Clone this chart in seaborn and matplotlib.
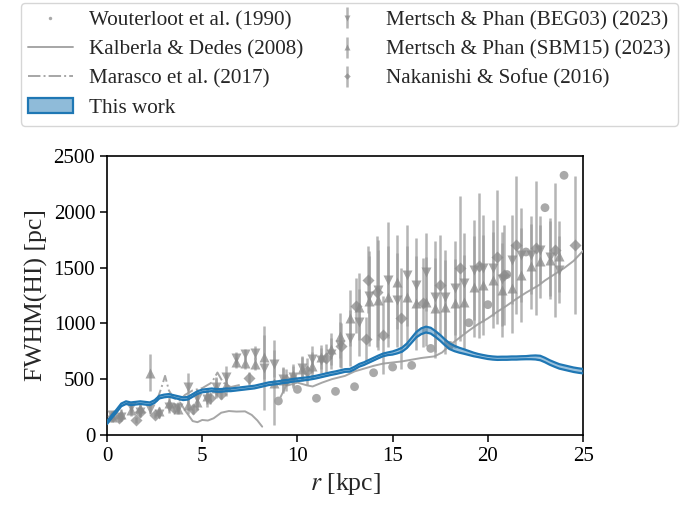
import numpy as np
import matplotlib
matplotlib.use("Agg")
import matplotlib.pyplot as plt
from matplotlib.patches import Patch
from matplotlib.lines import Line2D
import seaborn as sns

# ---------------- data ----------------
# Wouterloot et al. (1990)
r_wout = [9, 10, 11, 12, 13, 14, 15, 16, 17, 18, 19, 20, 21, 22, 23, 24]
fwhm_wout = [305, 409, 329, 391, 433, 558, 609, 624, 776, 803, 1006, 1168, 1438, 1640, 2037, 2327]

# Kalberla & Dedes (2008), inner and outer branches
r_kd_in = [3.85, 4.1, 4.5, 4.75, 5.0, 5.3, 5.6, 6.0, 6.4, 6.8, 7.25, 7.6, 7.9, 8.15]
fwhm_kd_in = [290, 220, 125, 115, 135, 130, 150, 200, 215, 210, 212, 180, 130, 75]
r_kd_out = [9.0, 9.4, 10.0, 10.5, 10.8, 11.3, 11.8, 12.5, 13.0, 13.5, 14.0, 14.5, 15.0,
            15.5, 16.0, 16.5, 17.2, 17.6, 18.0, 18.5, 19.0, 19.5, 20.0, 20.5, 21.0,
            21.5, 22.0, 22.5, 22.7, 23.0, 23.5, 24.0, 24.5, 25.0]
fwhm_kd_out = [300, 440, 470, 445, 435, 470, 500, 530, 570, 595, 620, 640, 650,
               660, 675, 690, 705, 740, 805, 870, 935, 995, 1045, 1105, 1160,
               1220, 1275, 1325, 1345, 1385, 1440, 1495, 1560, 1650]

# Marasco et al. (2017)
r_mar = [2.6, 2.85, 3.05, 3.25, 3.5, 3.8, 4.1, 4.5, 5.0, 5.5, 5.8, 6.1, 6.5, 7.0]
fwhm_mar = [300, 420, 530, 400, 330, 310, 360, 400, 420, 470, 560, 470, 430, 450]

# Mertsch & Phan (2023)
r_mp = [0.25, 0.75, 1.25, 1.75, 2.25, 2.75, 3.25, 3.75, 4.25, 4.75, 5.25, 5.75,
        6.25, 6.75, 7.25, 7.75, 8.25, 8.75, 9.25, 9.75, 10.25, 10.75, 11.25, 11.75,
        12.25, 12.75, 13.25, 13.75, 14.25, 14.75, 15.25, 15.75, 16.25, 16.75, 17.25, 17.75,
        18.25, 18.75, 19.25, 19.75, 20.25, 20.75, 21.25, 21.75, 22.25, 22.75, 23.25, 23.75]
fwhm_beg03 = [175, 165, 250, 205, 235, 190, 250, 245, 430, 330, 320, 430,
              520, 690, 725, 735, 600, 640, 500, 520, 600, 680, 670, 730,
              810, 870, 1010, 1250, 1300, 1390, 1210, 1430, 1345, 1460, 1240, 1240,
              1320, 1360, 1480, 1495, 1500, 1395, 1570, 1615, 1615, 1660, 1595, 1480]
err_beg03 = [40, 40, 50, 40, 50, 40, 50, 50, 130, 80, 70, 90,
             100, 50, 50, 60, 380, 120, 110, 100, 110, 120, 110, 140,
             200, 250, 300, 400, 450, 520, 420, 450, 420, 350, 500, 420,
             420, 450, 450, 480, 430, 420, 400, 420, 350, 300, 350, 300]
fwhm_sbm15 = [160, 190, 220, 240, 560, 215, 290, 235, 270, 300, 350, 420,
              450, 650, 645, 640, 700, 470, 490, 540, 590, 620, 700, 770,
              890, 1045, 1150, 1200, 1210, 1240, 1370, 1240, 1180, 1195, 1140, 1150,
              1180, 1195, 1330, 1345, 1390, 1300, 1315, 1435, 1510, 1555, 1570, 1600]
err_sbm15 = [40, 40, 50, 40, 165, 40, 50, 50, 80, 80, 70, 90,
             100, 50, 50, 60, 200, 380, 110, 100, 110, 120, 110, 140,
             200, 250, 300, 400, 450, 450, 420, 450, 420, 400, 450, 420,
             400, 420, 450, 450, 430, 420, 400, 420, 380, 330, 350, 320]

# Nakanishi & Sofue (2016)
r_ns = [0.3, 0.65, 1.5, 1.75, 2.5, 3.5, 4.5, 5.4, 6.0, 7.45, 9.4, 10.5, 11.5, 12.3,
        13.1, 13.6, 13.7, 14.2, 14.5, 15.45, 16.6, 17.5, 18.55, 19.55, 20.5, 20.85,
        21.5, 22.55, 23.5, 24.55]
fwhm_ns = [170, 150, 134, 209, 179, 240, 230, 330, 370, 508, 490, 570, 690, 800,
           1160, 860, 1390, 1285, 895, 1045, 1185, 1345, 1495, 1515, 1595, 1435,
           1700, 1675, 1660, 1700]
err_ns = [30, 30, 30, 30, 30, 30, 40, 50, 50, 60, 100, 120, 130, 200,
          250, 200, 300, 500, 350, 450, 400, 450, 650, 650, 600, 450,
          620, 600, 600, 620]

# This work: median profile and half-width of the band
r_tw = np.arange(0, 25.01, 0.25)
fwhm_tw = [110, 165, 215, 270, 290, 280, 285, 290, 285, 280, 300, 340, 350, 355, 345,
           335, 325, 330, 355, 380, 395, 400, 405, 400, 400, 405, 405, 410, 415, 420,
           425, 430, 440, 450, 460, 465, 470, 478, 482, 490, 495, 500, 505, 512, 520,
           530, 540, 550, 558, 568, 578, 580, 600, 625, 640, 660, 680, 700, 718, 728,
           735, 748, 765, 800, 850, 900, 930, 945, 935, 905, 870, 830, 795, 775, 760,
           748, 735, 722, 712, 703, 695, 690, 687, 688, 688, 690, 690, 692, 693, 695,
           695, 690, 672, 650, 632, 615, 605, 595, 585, 578, 572]
hw_tw = [12] * 60 + [14, 16, 18, 20, 22, 24, 26, 26, 26, 26, 26, 26, 26, 24, 22,
                     20, 18, 16, 14, 14, 14, 14, 14, 14, 14, 14, 14, 14, 14, 16,
                     18, 20, 20, 20, 20, 20, 20, 20, 20, 20, 20]

# ---------------- style ----------------
sns.set_theme(style="ticks")
plt.rcParams["font.family"] = ["Liberation Serif", "DejaVu Serif"]
plt.rcParams["mathtext.fontset"] = "stix"
plt.rcParams["axes.edgecolor"] = "black"
plt.rcParams["axes.linewidth"] = 1.2
plt.rcParams["xtick.color"] = "black"
plt.rcParams["ytick.color"] = "black"
plt.rcParams["xtick.major.width"] = 1.1
plt.rcParams["ytick.major.width"] = 1.1

fig = plt.figure(figsize=(6.92, 5.13), dpi=100)
ax = fig.add_axes([0.1546, 0.152, 0.688, 0.5439])

grey_mk = "#8a8a8a"
grey_eb = "#9c9c9c"
grey_ln = "#a6a6a6"
blue = "#1f77b4"

# This work
lo = np.array(fwhm_tw) - np.array(hw_tw)
hi = np.array(fwhm_tw) + np.array(hw_tw)
ax.fill_between(r_tw, lo, hi, color=blue, alpha=0.45, lw=0, zorder=5)
sns.lineplot(x=r_tw, y=lo, ax=ax, color=blue, lw=1.6, zorder=6)
sns.lineplot(x=r_tw, y=hi, ax=ax, color=blue, lw=1.6, zorder=6)

# literature curves
sns.lineplot(x=r_kd_in, y=fwhm_kd_in, ax=ax, color=grey_ln, lw=1.4, zorder=3)
sns.lineplot(x=r_kd_out, y=fwhm_kd_out, ax=ax, color=grey_ln, lw=1.4, zorder=3)
sns.lineplot(x=r_mar, y=fwhm_mar, ax=ax, color=grey_ln, lw=1.4, ls="-.", zorder=3)

sns.scatterplot(x=r_wout, y=fwhm_wout, ax=ax, color="#a9a9a9", s=40,
                edgecolor="none", zorder=4)

eb_kw = dict(ls="none", ecolor=grey_eb, elinewidth=1.8, alpha=0.75,
             mfc=grey_mk, mec="none", color=grey_mk, zorder=4)
h_beg = ax.errorbar(r_mp, fwhm_beg03, yerr=err_beg03, fmt="v", ms=7, **eb_kw)
h_sbm = ax.errorbar(r_mp, fwhm_sbm15, yerr=err_sbm15, fmt="^", ms=7, **eb_kw)
h_ns = ax.errorbar(r_ns, fwhm_ns, yerr=err_ns, fmt="D", ms=6, **eb_kw)

ax.set_xlim(0, 25)
ax.set_ylim(0, 2500)
ax.set_xticks([0, 5, 10, 15, 20, 25])
ax.set_yticks([0, 500, 1000, 1500, 2000, 2500])
ax.tick_params(labelsize=15, length=5, direction="out")
ax.set_xlabel("$r$ [kpc]", fontsize=18.5)
ax.set_ylabel("FWHM(HI) [pc]", fontsize=18.5)
for s in ax.spines.values():
    s.set_visible(True)

# legend above the panel
handles = [
    Line2D([], [], ls="none", marker="o", ms=4.5, color="#a9a9a9", mec="none"),
    Line2D([], [], color=grey_ln, lw=1.4),
    Line2D([], [], color=grey_ln, lw=1.4, ls="-."),
    Patch(facecolor="#8fbbd9", edgecolor=blue, lw=1.6),
    h_beg, h_sbm, h_ns,
]
labels = ["Wouterloot et al. (1990)", "Kalberla & Dedes (2008)",
          "Marasco et al. (2017)", "This work",
          "Mertsch & Phan (BEG03) (2023)", "Mertsch & Phan (SBM15) (2023)",
          "Nakanishi & Sofue (2016)"]
leg = fig.legend(handles, labels, loc="upper center", bbox_to_anchor=(0.505, 1.0),
                 ncol=2, fontsize=15.2, frameon=True, fancybox=True,
                 edgecolor="#cccccc", markerscale=0.55, handlelength=2.1,
                 columnspacing=1.0, borderpad=0.35,
                 borderaxespad=0.15, labelspacing=0.45)
leg.get_frame().set_linewidth(1.0)

fig.savefig("out.png", dpi=100)
